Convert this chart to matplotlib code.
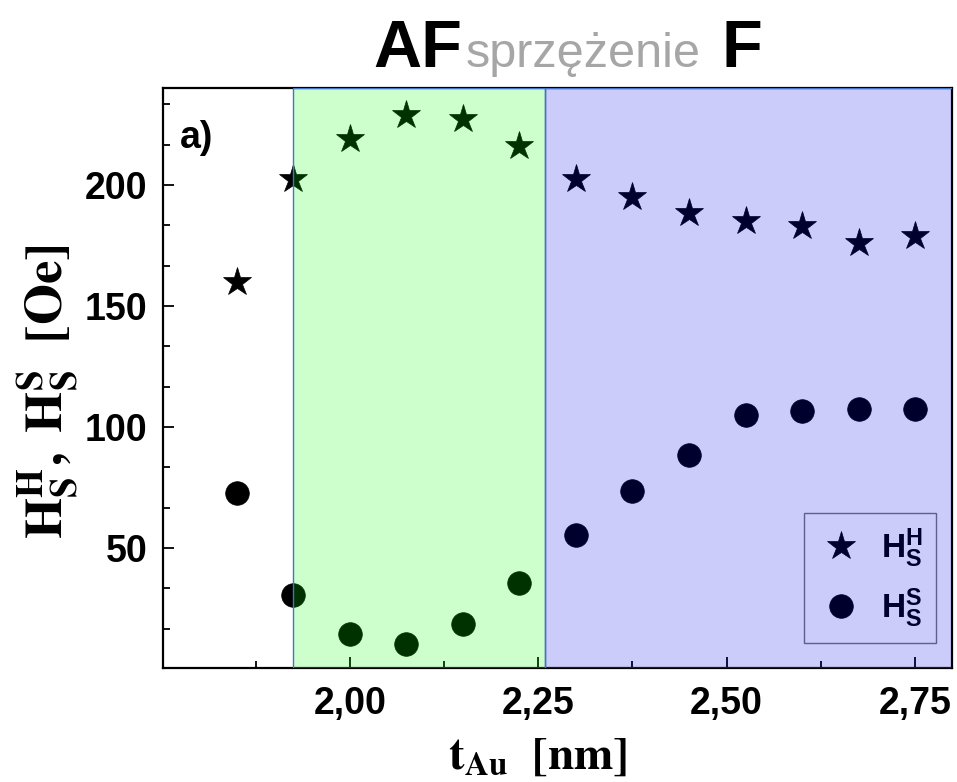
import matplotlib
matplotlib.use("Agg")
import matplotlib.pyplot as plt
from matplotlib.ticker import MultipleLocator, FixedLocator, FuncFormatter
from matplotlib.font_manager import FontProperties

plt.rcParams['font.family'] = ['Liberation Sans', 'DejaVu Sans']
plt.rcParams['mathtext.fontset'] = 'custom'
plt.rcParams['mathtext.rm'] = 'Liberation Sans'
plt.rcParams['mathtext.bf'] = 'Liberation Sans:bold'
plt.rcParams['mathtext.it'] = 'Liberation Sans:italic'

# ---- data ----
t_au = [1.85, 1.925, 2.0, 2.075, 2.15, 2.225, 2.3, 2.375, 2.45, 2.525, 2.6, 2.675, 2.75]
hs_h = [160, 202.5, 219, 229, 227, 216, 202.5, 195, 188.5, 185, 183, 176, 179]
hs_s = [72.7, 30.5, 14.5, 10.3, 18.6, 35.5, 55.4, 73.6, 88.4, 105, 106.6, 107.4, 107.4]
af_region = (1.924, 2.259)
f_region = (2.259, 2.80)
x_ticks = [2.00, 2.25, 2.50, 2.75]
y_ticks = [50, 100, 150, 200]
legend_labels = [r'$\mathbf{H_S^H}$', r'$\mathbf{H_S^S}$']

fig = plt.figure(figsize=(9.57, 7.82), dpi=100)
ax = fig.add_axes([163/957, 1-668/782, (952-163)/957, (668-88)/782])

ax.plot(t_au, hs_h, linestyle='none', marker='*', ms=21, color='black', mew=0.5,
        label=legend_labels[0], zorder=3)
ax.plot(t_au, hs_s, linestyle='none', marker='o', ms=17, color='black', mew=0.5,
        label=legend_labels[1], zorder=3)

ax.set_xlim(1.752, 2.799)
ax.set_ylim(0.5, 240)

ax.xaxis.set_major_locator(FixedLocator(x_ticks))
ax.xaxis.set_minor_locator(MultipleLocator(0.125))
ax.yaxis.set_major_locator(FixedLocator(y_ticks))
ax.yaxis.set_minor_locator(MultipleLocator(50/3))
ax.xaxis.set_major_formatter(FuncFormatter(lambda v, p: f"{v:.2f}".replace('.', ',')))
ax.yaxis.set_major_formatter(FuncFormatter(lambda v, p: f"{v:.0f}"))

ax.tick_params(axis='both', which='both', direction='in', top=False, right=False,
               labelsize=27, width=1.3)
ax.tick_params(axis='y', which='both', pad=11)
ax.tick_params(axis='x', which='both', pad=13)
ax.tick_params(axis='both', which='major', length=8)
ax.tick_params(axis='both', which='minor', length=5)
for lab in ax.get_xticklabels() + ax.get_yticklabels():
    lab.set_fontweight('bold')
for s in ax.spines.values():
    s.set_linewidth(1.6)
    s.set_color('black')

leg = ax.legend(loc='lower right', bbox_to_anchor=(0.98, 0.043), borderaxespad=0,
                prop=FontProperties(family='Liberation Sans', weight='bold', size=24),
                frameon=True, fancybox=False, edgecolor='#555555', facecolor='none',
                handlelength=1.4, handletextpad=0.5, labelspacing=0.5,
                borderpad=0.4, numpoints=1)
leg.get_frame().set_linewidth(1.0)
leg.set_zorder(4)

# coloured regions laid over the markers (tints the symbols beneath)
ax.axvspan(af_region[0], af_region[1], facecolor=(0, 1, 0, 0.2), edgecolor='#4472c4',
           linewidth=1.0, zorder=6)
ax.axvspan(f_region[0], f_region[1], facecolor=(0, 0, 0.9, 0.2), edgecolor='#4472c4',
           linewidth=1.0, zorder=6)

fig.text(180/957, 1-148/782, 'a)', fontsize=27, fontweight='bold')

fig.text(48/957, 1-392/782, r'$\mathbf{H_S^H,\ H_S^S\ \ [Oe]}$', rotation=90,
         ha='center', va='center', fontsize=38, math_fontfamily='stix')
fig.text(538/957, 1-757/782, r'$\mathbf{t_{Au}\ \ [nm]}$', ha='center', va='center',
         fontsize=34, math_fontfamily='stix')

fig.text(373/957, 1-67/782, 'AF', fontsize=48, fontweight='bold', va='baseline')
fig.text(466/957, 1-67/782, 'sprzężenie', fontsize=35, color='#a6a6a6', va='baseline')
fig.text(722/957, 1-67/782, 'F', fontsize=48, fontweight='bold', va='baseline')

fig.savefig('out.png', dpi=100)
